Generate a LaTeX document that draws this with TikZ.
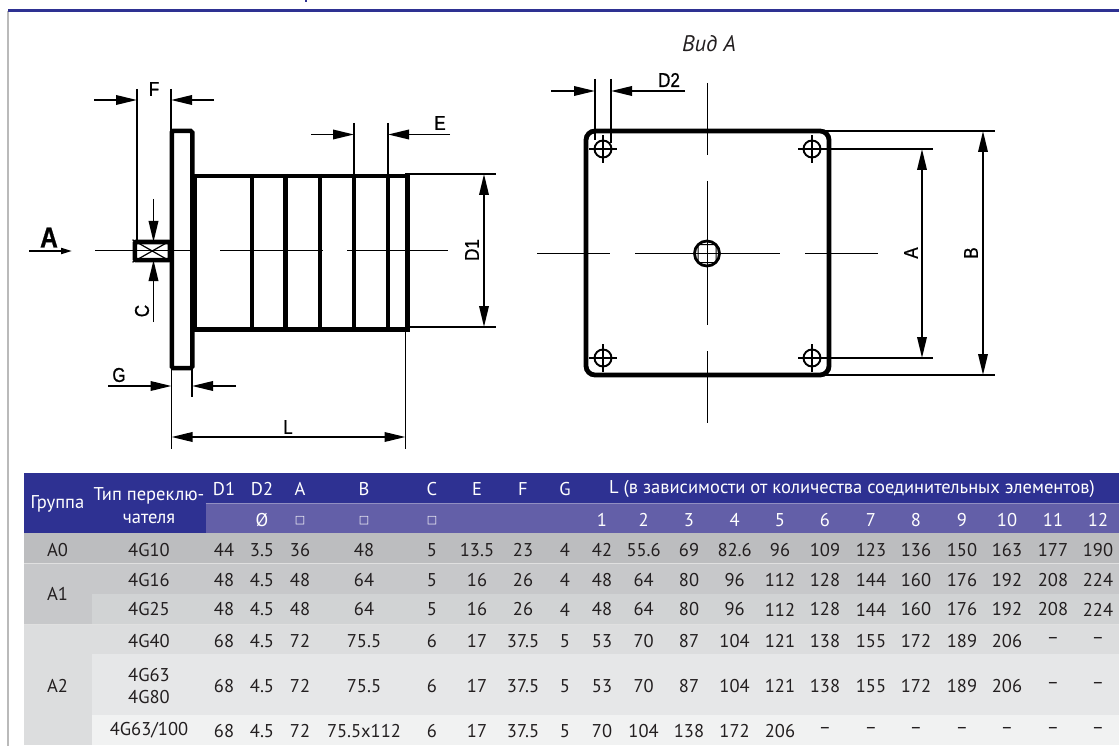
\documentclass[tikz,border=0pt]{standalone}
\usepackage{fontspec}
\setmainfont{PT Sans}
\newfontfamily\dimfont[FakeStretch=0.85,FakeBold=0.8]{Liberation Sans}
\newfontfamily\symfont{DejaVu Sans}
\usepackage{tikz}
\usetikzlibrary{arrows.meta,calc,positioning}
\definecolor{headblue}{HTML}{2E3192}
\definecolor{subblue}{HTML}{635FA8}
\definecolor{cellink}{HTML}{231F20}
\tikzset{
  heavy/.style={draw=black,line width=4.5pt,inner sep=0pt},
  thinline/.style={draw=black,line width=1pt},
  extline/.style={draw=black,line width=1.9pt},
  dimarrow/.style={draw=black,line width=1.9pt,-{Triangle[length=21pt,width=9.5pt]}},
  bothdim/.style={draw=black,line width=1.9pt,{Triangle[length=21pt,width=9.5pt]}-{Triangle[length=21pt,width=9.5pt]}},
  dimlabel/.style={inner sep=0pt,font=\dimfont\fontsize{20}{20}\selectfont},
  cell/.style={inner sep=0pt,text=cellink,font=\fontsize{18.5}{22}\selectfont,align=center},
  headcell/.style={inner sep=0pt,text=white,font=\fontsize{18.5}{22.7}\selectfont,align=center},
  hole/.style={circle,draw=black,line width=1.9pt,minimum size=17pt,inner sep=0pt}
}
\def\colx{{224,262,300,364,432,477,523,565,602,643.6,689,734.6,780,825,871,916,962,1007,1053,1098}}
\begin{document}
\begin{tikzpicture}[x=1pt,y=-1pt]
\useasboundingbox (0,0) rectangle (1119,746);
% page frame
\coordinate (frame_nw) at (8,11);
\draw[line width=1.5pt,color=black!27] (frame_nw) -- (8,746);
\draw[line width=3pt,color=headblue] (frame_nw) -- (1119,11);
\draw[line width=1.5pt,color=headblue] (306,0) -- (306,2);
% side view
\node[heavy,minimum width=213pt,minimum height=153pt,anchor=north west] (body) at (192,174) {};
\foreach \finx [count=\i] in {252,285.5,320,354,388}
  \draw[heavy] (\finx,174) coordinate (fin\i_t) -- (\finx,327);
\node[heavy,fill=white,rounded corners=1.5pt,minimum width=20.5pt,minimum height=237pt] (flange) at (182,249.5) {};
\node[heavy,rounded corners=1pt,minimum width=35pt,minimum height=18pt,anchor=east] (shaft) at (172,251) {};
\draw[line width=1.2pt] (shaft.north west) -- (shaft.south east) (shaft.south west) -- (shaft.north east);
\draw[thinline] (95,250.5) -- (196,250.5) (220,250.5) -- (323,250.5) (347,250.5) -- (448,250.5);
% arrow A
\node[inner sep=0pt,font=\dimfont\bfseries\fontsize{29}{29}\selectfont] (view_a) at (49,237.5) {A};
\draw[line width=1.9pt,-{Triangle[length=11pt,width=6pt]}] (29,251) coordinate (view_s) -- (72,251) coordinate (view_e);
% F
\coordinate (f_l) at (137,100); \coordinate (f_r) at (171,100);
\draw[extline] (137,89) -- (137,242) (171,89) -- (171,131);
\draw[dimarrow] (94,100) -- (f_l);
\draw[dimarrow] (214,100) -- (f_r);
\node[dimlabel] (lab_f) at (154,89) {F};
% E
\coordinate (e_l) at (354,134.5); \coordinate (e_r) at (388,134.5);
\draw[extline] (354,123) -- (354,174) (388,123) -- (388,174);
\draw[dimarrow] (311,134.5) -- (e_l);
\draw[dimarrow] (450,134.5) -- (e_r);
\node[dimlabel] (lab_e) at (440,123) {E};
% D1
\coordinate (d1_t) at (484,174); \coordinate (d1_b) at (484,327);
\draw[extline] (405,174) -- (496,174) (405,327) -- (496,327);
\draw[bothdim] (d1_t) -- (d1_b);
\node[dimlabel,rotate=90] (lab_d1) at (472,250) {D1};
% C
\coordinate (c_t) at (153.5,242); \coordinate (c_b) at (153.5,260);
\draw[dimarrow] (153.5,199) -- (c_t);
\draw[dimarrow] (153.5,322) -- (c_b);
\node[dimlabel,rotate=90] (lab_c) at (142,311) {C};
% G
\coordinate (g_l) at (171.5,386); \coordinate (g_r) at (192,386);
\draw[extline] (171.5,368) -- (171.5,449) (192,368) -- (192,397);
\draw[dimarrow] (108,386) -- (g_l);
\draw[dimarrow] (236,386) -- (g_r);
\node[dimlabel] (lab_g) at (119,375) {G};
% L
\coordinate (l_l) at (171.5,437); \coordinate (l_r) at (405.5,437);
\draw[extline] (405.5,327) -- (405.5,449);
\draw[bothdim] (l_l) -- (l_r);
\node[dimlabel] (lab_l) at (288,427) {L};
% front view
\node[inner sep=0pt,font=\itshape\fontsize{22.5}{22.5}\selectfont,text=cellink] (view_title) at (709,44) {Вид А};
\node[draw=black,line width=4.8pt,rounded corners=9pt,minimum width=243pt,minimum height=244pt,inner sep=0pt] (plate) at (707.5,253) {};
\foreach \hx/\hy/\hname in {603/149/nw,812/149/ne,603/358/sw,812/358/se}{
  \node[hole] (hole_\hname) at (\hx,\hy) {};
  \draw[line width=1.4pt] (\hx-14,\hy) -- (\hx+14,\hy) (\hx,\hy-14) -- (\hx,\hy+14);
}
\draw[thinline] (537,253.5) -- (610,253.5) (635,253.5) -- (780,253.5) (805,253.5) -- (878,253.5);
\draw[thinline] (707,83) -- (707,155) (707,181) -- (707,325) (707,351) -- (707,423);
\node[circle,draw=black,line width=2.8pt,minimum size=25pt,inner sep=0pt] (hub) at (707,253.5) {};
\node[draw=black,line width=1pt,rounded corners=1.5pt,minimum size=18pt,inner sep=0pt] (hub_sq) at (707,253.5) {};
% D2
\coordinate (d2_l) at (595,91); \coordinate (d2_r) at (611,91);
\draw[extline] (595,79) -- (595,140) (611,79) -- (611,143);
\draw[dimarrow] (551,91) -- (d2_l);
\draw[dimarrow] (685,91) -- (d2_r);
\node[dimlabel] (lab_d2) at (669,80) {D2};
% A, B
\coordinate (a_t) at (922,149); \coordinate (a_b) at (922,358);
\draw[extline] (hole_ne.east) ++(3,0) -- (933,149) (hole_se.east) ++(3,0) -- (933,358);
\draw[bothdim] (a_t) -- (a_b);
\node[dimlabel,rotate=90] (lab_a) at (911,253) {A};
\coordinate (b_t) at (983,131); \coordinate (b_b) at (983,375);
\draw[extline] (822,131) -- (995,131) (822,375) -- (995,375);
\draw[bothdim] (b_t) -- (b_b);
\node[dimlabel,rotate=90] (lab_b) at (971,253) {B};
% table backgrounds
\fill[headblue] (24,473) rectangle (1119,533);
\fill[subblue] (205.5,503.3) rectangle (1119,533);
\draw[line width=.7pt,color=subblue!70!white] (205.5,503.3) -- (1119,503.3);
\foreach \ya/\yb/\xa/\shade in {533/563/24/BCBDBF,563/594/92/C7C8CA,594/624/92/D1D3D4,624/654/92/DCDDDE,654/715/92/E6E7E8,715/745/92/F1F2F2}{
  \definecolor{rowfill}{HTML}{\shade}
  \fill[rowfill] (\xa,\ya) rectangle (1119,\yb);
}
\definecolor{rowfill}{HTML}{C7C8CA}
\fill[rowfill] (24,563) rectangle (92,624);
\definecolor{rowfill}{HTML}{DCDDDE}
\fill[rowfill] (24,624) rectangle (92,745);
\draw[line width=.7pt,color=black!12] (24,563) -- (1119,563) (24,624) -- (1119,624);
% table header
\node[headcell] (h_group) at (57.5,504) {Группа};
\node[headcell] (h_type) at (149,505.3) {Тип переклю-\\чателя};
\foreach \hval [count=\c from 0] in {D1,D2,A,B,C,E,F,G}{
  \pgfmathsetmacro\cx{\colx[\c]}
  \node[headcell] (h_\hval) at (\cx,489) {\hval};
}
\node[headcell] (h_len) at (852,489) {L (в зависимости от количества соединительных элементов)};
\node[headcell] (h_dia) at (262,520) {Ø};
\foreach \sqx/\sqname in {300/a,364/b,432/c}
  \node[headcell,font=\symfont\fontsize{11}{11}\selectfont] (h_sq\sqname) at (\sqx,520.5) {□};
\foreach \n [count=\c from 8] in {1,...,12}{
  \pgfmathsetmacro\cx{\colx[\c]}
  \node[headcell] (h_n\n) at (\cx,520) {\n};
}
% table body
\node[cell] (g_a0) at (57.5,549.7) {A0};
\node[cell] (g_a1) at (57.5,594) {A1};
\node[cell] (g_a2) at (57.5,685.7) {A2};
\foreach \rowy/\rowname/\rowlist [count=\r] in {
  549.7/4G10/{44,3.5,36,48,5,13.5,23,4,42,55.6,69,82.6,96,109,123,136,150,163,177,190},
  580/4G16/{48,4.5,48,64,5,16,26,4,48,64,80,96,112,128,144,160,176,192,208,224},
  609.5/4G25/{48,4.5,48,64,5,16,26,4,48,64,80,96,112,128,144,160,176,192,208,224},
  640.7/4G40/{68,4.5,72,75.5,6,17,37.5,5,53,70,87,104,121,138,155,172,189,206,–,–},
  685.7/{4G63\\4G80}/{68,4.5,72,75.5,6,17,37.5,5,53,70,87,104,121,138,155,172,189,206,–,–},
  730.7/4G63\slash 100/{68,4.5,72,75.5x112,6,17,37.5,5,70,104,138,172,206,–,–,–,–,–,–,–}}{
  \node[cell] (t_\r) at (149,\rowy) {\rowname};
  \foreach \val [count=\c from 0] in \rowlist {
    \pgfmathsetmacro\cx{\colx[\c]}
    \node[cell] (c_\r_\c) at (\cx,\rowy) {\val};
  }
}
\end{tikzpicture}
\end{document}
